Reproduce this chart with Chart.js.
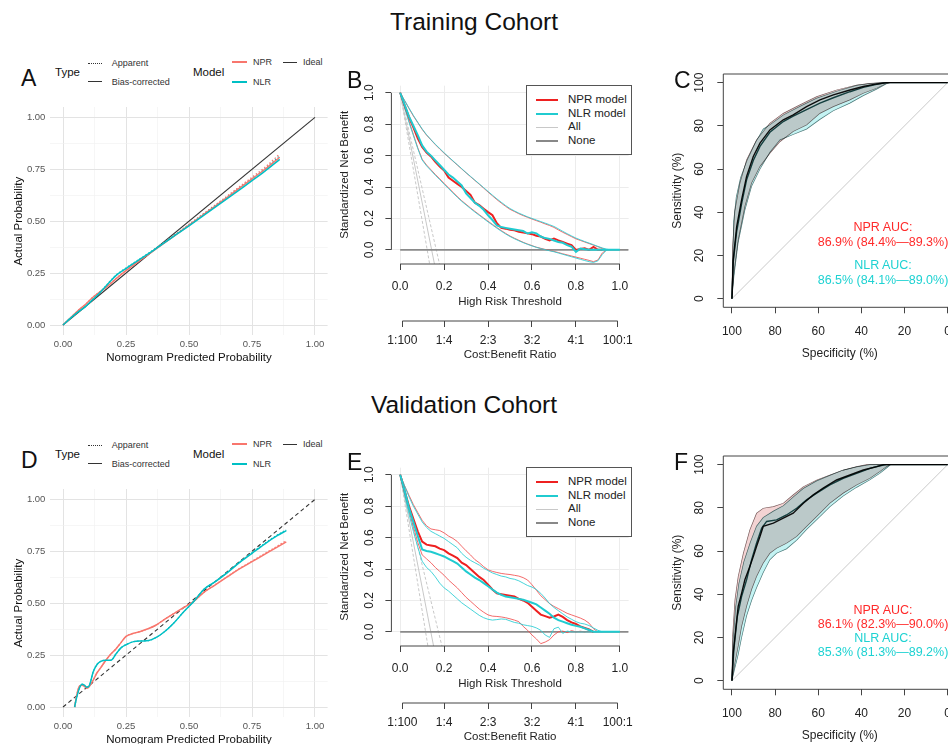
<!DOCTYPE html>
<html>
<head>
<meta charset="utf-8">
<title>Training / Validation Cohort</title>
<script src="https://cdn.jsdelivr.net/npm/chart.js@4.4.1/dist/chart.umd.min.js"></script>
<style>
  html, body { margin: 0; padding: 0; background: #fff; }
  body { position: relative; width: 948px; height: 744px; overflow: hidden;
         font-family: "Liberation Sans", Arial, Helvetica, sans-serif; }
  canvas { position: absolute; }
  .txt { position: absolute; white-space: nowrap; line-height: 1; }
  .seg { position: absolute; height: 0; }
  .box { position: absolute; border: 1px solid #555; background: #fff; box-sizing: border-box; }
</style>
</head>
<body>
<script>
// ---------- calibration curves (A training, D validation) ----------
const calGrid = [0, 0.125, 0.25, 0.375, 0.5, 0.625, 0.75, 0.875, 1];
const idealLine = [0, 1];

const calAx = [0, 0.03, 0.06, 0.09, 0.12, 0.15, 0.18, 0.21, 0.25, 0.3, 0.35, 0.4, 0.45, 0.5, 0.55, 0.6, 0.65, 0.7, 0.75, 0.8, 0.86];
const nprA = [0, 0.035, 0.07, 0.1, 0.135, 0.163, 0.19, 0.222, 0.262, 0.307, 0.35, 0.393, 0.437, 0.481, 0.525, 0.569, 0.614, 0.659, 0.704, 0.749, 0.808];
const nprAApp = [0, 0.035, 0.07, 0.1, 0.136, 0.164, 0.192, 0.224, 0.264, 0.309, 0.352, 0.395, 0.44, 0.485, 0.53, 0.575, 0.62, 0.666, 0.712, 0.758, 0.824];
const nlrA = [0, 0.033, 0.063, 0.09, 0.125, 0.16, 0.2, 0.238, 0.272, 0.312, 0.352, 0.394, 0.436, 0.478, 0.521, 0.564, 0.607, 0.651, 0.695, 0.74, 0.798];
const nlrAApp = [0, 0.033, 0.063, 0.09, 0.126, 0.162, 0.202, 0.24, 0.275, 0.315, 0.355, 0.397, 0.44, 0.483, 0.527, 0.571, 0.615, 0.66, 0.705, 0.75, 0.815];

const calDx = [0.046, 0.055, 0.065, 0.075, 0.085, 0.095, 0.105, 0.12, 0.135, 0.15, 0.17, 0.19, 0.21, 0.23, 0.25, 0.28, 0.31, 0.34, 0.37, 0.4, 0.44, 0.48, 0.52, 0.56, 0.6, 0.65, 0.7, 0.75, 0.8, 0.85, 0.886];
const nprD = [0, 0.06, 0.1, 0.105, 0.1, 0.09, 0.1, 0.13, 0.165, 0.19, 0.225, 0.255, 0.28, 0.31, 0.34, 0.355, 0.365, 0.378, 0.395, 0.42, 0.45, 0.48, 0.51, 0.553, 0.585, 0.625, 0.665, 0.70, 0.735, 0.77, 0.795];
const nprDApp = [0, 0.06, 0.1, 0.105, 0.1, 0.09, 0.1, 0.13, 0.165, 0.19, 0.225, 0.255, 0.28, 0.31, 0.34, 0.355, 0.365, 0.378, 0.395, 0.42, 0.45, 0.48, 0.51, 0.553, 0.586, 0.627, 0.667, 0.703, 0.739, 0.775, 0.802];
const nlrD = [0, 0.05, 0.09, 0.11, 0.105, 0.095, 0.105, 0.17, 0.205, 0.22, 0.225, 0.225, 0.255, 0.285, 0.30, 0.315, 0.318, 0.32, 0.335, 0.36, 0.405, 0.46, 0.51, 0.568, 0.60, 0.645, 0.695, 0.74, 0.785, 0.825, 0.85];
const nlrDApp = [0, 0.05, 0.09, 0.11, 0.105, 0.095, 0.105, 0.17, 0.205, 0.22, 0.225, 0.225, 0.255, 0.285, 0.30, 0.315, 0.318, 0.32, 0.335, 0.36, 0.405, 0.46, 0.51, 0.568, 0.601, 0.647, 0.697, 0.743, 0.788, 0.828, 0.853];

// ---------- decision curves (B training, E validation) ----------
const thr = [0, 0.02, 0.04, 0.06, 0.08, 0.1, 0.12, 0.14, 0.16, 0.18, 0.2, 0.22, 0.24, 0.26, 0.28, 0.3, 0.32, 0.34, 0.36, 0.38,
  0.4, 0.42, 0.44, 0.46, 0.48, 0.5, 0.52, 0.54, 0.56, 0.58, 0.6, 0.62, 0.64, 0.66, 0.68, 0.7, 0.72, 0.74, 0.76, 0.78,
  0.8, 0.82, 0.84, 0.86, 0.88, 0.9, 0.92, 0.94, 0.96, 0.98, 1];
const dcaTicks = [0, 0.2, 0.4, 0.6, 0.8, 1];
const costTicks = [0.01, 0.2, 0.4, 0.6, 0.8, 0.99];
const costLabels = ['1:100', '1:4', '2:3', '3:2', '4:1', '100:1'];
const allY = [1, -0.09];
const noneX = [0, 1.04];
const noneY = [0, 0];

const nprB = [1, .92, .845, .78, .71, .655, .62, .595, .56, .53, .505, .46, .44, .42, .40, .375, .35, .30, .285, .262,
  .24, .22, .17, .14, .135, .128, .124, .115, .11, .105, .10, .09, .085, .07, .06, .072, .06, .05, .04, .03,
  0, .005, .01, 0, .019, 0, 0, null, null, null, null];
const nprBHi = [1, .95, .9, .852, .81, .767, .73, .70, .67, .642, .615, .59, .565, .54, .515, .49, .466, .442, .418, .393,
  .368, .344, .32, .298, .277, .258, .244, .23, .218, .207, .196, .186, .176, .165, .155, .143, .127, .112, .098, .084,
  .07, .06, .05, .04, .03, .02, .01, 0, null, null, null];
const nprBLo = [1, .91, .82, .735, .65, .577, .54, .51, .48, .452, .423, .395, .367, .339, .313, .29, .267, .245, .224, .203,
  .182, .162, .142, .123, .105, .088, .074, .061, .048, .037, .027, .017, .01, .003, -.004, -.01, -.017, -.025, -.032, -.039,
  -.046, -.053, -.06, -.067, -.075, -.065, -.02, 0, null, null, null];
const nlrB = [1, .925, .85, .79, .73, .665, .625, .6, .57, .54, .51, .48, .46, .435, .41, .36, .33, .30, .28, .255,
  .22, .19, .155, .145, .14, .135, .13, .125, .12, .104, .112, .105, .085, .075, .07, .06, .05, .045, .03, .02,
  -.013, .008, .004, 0, 0, 0, 0, 0, 0, 0, 0];
const nlrBHi = [1, .952, .903, .856, .812, .77, .733, .702, .672, .645, .618, .592, .567, .542, .517, .492, .468, .444, .42, .396,
  .372, .348, .325, .303, .282, .263, .248, .234, .222, .21, .2, .19, .18, .17, .16, .149, .134, .118, .103, .089,
  .075, .064, .053, .043, .033, .022, .012, .004, 0, null, null];
const nlrBLo = [1, .905, .812, .728, .645, .572, .535, .505, .475, .447, .418, .39, .362, .335, .309, .286, .263, .241, .22, .199,
  .178, .158, .138, .119, .101, .085, .071, .058, .046, .035, .025, .016, .008, .001, -.006, -.012, -.02, -.028, -.036, -.044,
  -.052, -.06, -.068, -.075, -.08, -.07, -.03, 0, null, null, null];
const allBEnd = [0.134, 0.156, 0.179];

const nprE = [1, .9, .8, .72, .64, .575, .555, .55, .545, .53, .52, .50, .485, .47, .44, .425, .40, .375, .35, .33,
  .30, .27, .245, .24, .235, .23, .225, .21, .20, .185, .16, .135, .11, .10, .09, .098, .11, .095, .075, .06,
  .05, .035, .025, .015, 0, null, null, null, null, null, null];
const nprEHi = [1, .93, .87, .81, .76, .71, .675, .655, .65, .645, .63, .61, .595, .575, .545, .516, .49, .46, .44, .415,
  .395, .385, .378, .372, .368, .365, .36, .355, .345, .33, .30, .265, .23, .205, .18, .162, .148, .133, .118, .108,
  .098, .088, .075, .055, .02, 0, null, null, null, null, null];
const nprELo = [1, .88, .77, .67, .57, .49, .465, .44, .41, .385, .36, .33, .305, .28, .25, .22, .195, .17, .145, .125,
  .108, .10, .098, .095, .09, .083, .075, .065, .035, .01, -.02, -.045, -.075, -.065, -.05, -.02, 0, .005, -.005, .008,
  0, .004, 0, .006, 0, null, null, null, null, null, null];
const nlrE = [1, .9, .79, .7, .61, .525, .515, .51, .50, .49, .48, .465, .45, .435, .41, .385, .365, .345, .33, .31,
  .29, .27, .25, .235, .225, .22, .215, .21, .205, .195, .185, .175, .155, .135, .115, .09, .075, .065, .055, .045,
  .038, .032, .022, .012, 0, 0, 0, 0, 0, 0, 0];
const nlrEHi = [1, .93, .86, .8, .75, .70, .665, .64, .625, .61, .595, .575, .555, .535, .50, .475, .455, .44, .425, .405,
  .39, .375, .365, .355, .35, .34, .335, .325, .31, .295, .285, .27, .245, .215, .18, .155, .135, .115, .095, .08,
  .065, .055, .05, .04, .025, .01, 0, null, null, null, null];
const nlrELo = [1, .87, .75, .64, .54, .45, .41, .385, .35, .31, .28, .26, .235, .21, .185, .165, .145, .125, .105, .09,
  .08, .075, .078, .082, .08, .07, .06, .055, .045, .04, .035, .025, .01, -.02, -.035, .02, .03, -.01, .005, 0,
  0, 0, 0, 0, 0, null, null, null, null, null, null];
const allEEnd = [0.126, 0.152, 0.19];

// ---------- ROC curves (C training, F validation) ----------
const rocTicks = [0, 20, 40, 60, 80, 100];
const diagX = [100, 0];
const diagY = [0, 100];

const nprCSpec = [100, 99.4, 97.8, 95.5, 93.2, 90.1, 87, 82.4, 76.2, 71.6, 65.4, 59.2, 53, 45.3, 39.1, 32.9, 28.3, 0];
const nprCSens = [0, 18, 33.4, 45.8, 56.6, 65.8, 72, 78.1, 82.8, 85.1, 88.9, 92, 94.3, 96.6, 98.2, 99.4, 100, 100];
const nlrCSpec = [100, 99.4, 97.8, 95.5, 93.2, 90.1, 87, 82.4, 76.2, 71.6, 65.4, 59.2, 53, 45.3, 39.1, 32.9, 28, 0];
const nlrCSens = [0, 17, 31, 44, 55, 64, 70.5, 77, 82, 84.5, 87.5, 90.5, 93, 95.8, 97.8, 99.2, 100, 100];
const nprCHiSpec = [100, 99.7, 98.6, 96.3, 93.2, 88.6, 82.4, 76.2, 68.5, 60.7, 51.5, 42.2, 36, 29.8, 0];
const nprCHiSens = [0, 24, 41, 53.5, 64.3, 73.5, 81.2, 85.8, 89.7, 93.5, 96.6, 98.9, 99.7, 100, 100];
const nprCLoSpec = [100, 99.1, 97.1, 94, 90.9, 87, 82.4, 77.7, 71.6, 65.4, 59.2, 53, 45.3, 39.1, 32.9, 28.3, 26.5, 0];
const nprCLoSens = [0, 11.9, 27.3, 42.7, 53.5, 61.2, 67.3, 72.7, 77.4, 80.4, 85.8, 88.9, 92, 95.1, 97.4, 99.7, 100, 100];
const nlrCHiSpec = [100, 99.2, 98, 96, 93, 89, 85.5, 82.4, 76.2, 68.5, 60.7, 51.5, 42.2, 36, 30, 0];
const nlrCHiSens = [0, 36, 47, 56, 64, 72.5, 78.5, 80.5, 85, 89, 92.8, 96, 98.7, 99.6, 100, 100];
const nlrCLoSpec = [100, 99.1, 97.1, 94, 90.9, 87, 82.4, 77.7, 71.6, 65.4, 59.2, 53, 45.3, 39.1, 32.9, 28.3, 27, 0];
const nlrCLoSens = [0, 10, 26, 41, 52, 60, 67.8, 73.5, 76, 78.5, 83, 87, 90.5, 94, 97, 99.5, 100, 100];

const nprFSpec = [100, 99.4, 98.1, 97.1, 95.5, 94, 91.7, 90.1, 88.6, 87, 85.5, 80.8, 76.2, 71.6, 66.9, 62.3, 57.7, 51.5, 45.3, 39.1, 32.9, 29.8, 0];
const nprFSens = [0, 12.8, 25.1, 34.4, 40.5, 46.7, 52.9, 57.5, 62.1, 66.7, 71.4, 72.9, 75.2, 77.5, 82.1, 86, 89.1, 92.9, 95.2, 97.5, 99.1, 100, 100];
const nlrFSpec = [100, 99.1, 97.5, 95.5, 93.2, 90.9, 88.6, 86.2, 83.9, 79.3, 74.7, 70, 65.4, 60.7, 54.6, 48.4, 42.2, 36, 31.4, 28.3, 0];
const nlrFSens = [0, 14.3, 29.7, 39, 46.7, 55.9, 63.6, 70.6, 73.7, 74.4, 76.7, 79.8, 83.7, 86.8, 90.6, 93.7, 96, 98.3, 99.5, 100, 100];
const nprFHiSpec = [100, 99.7, 98.6, 97.1, 94.7, 91.7, 88.6, 85.5, 80.8, 76.2, 71.6, 66.9, 60.7, 54.6, 48.4, 42.2, 37.6, 0];
const nprFHiSens = [0, 20.5, 37.4, 48.2, 59, 69.8, 77.5, 79.8, 80.6, 82.1, 86, 89.8, 92.9, 95.2, 97.5, 99.1, 100, 100];
const nprFLoSpec = [100, 98.6, 97.1, 95.5, 93.2, 90.9, 88.6, 85.5, 82.4, 79.3, 74.7, 70, 65.4, 60.7, 54.6, 48.4, 42.2, 36, 31.4, 28.3, 26.8, 0];
const nprFLoSens = [0, 8.2, 15.9, 25.1, 34.4, 42.1, 48.2, 54.4, 59, 61.3, 63.6, 66.7, 71.4, 76, 82.1, 86.8, 90.6, 93.7, 96.8, 99.1, 100, 100];
const nlrFHiSpec = [100, 99.5, 98.3, 96.8, 94.5, 91.5, 88.6, 85.5, 80.8, 76.2, 71.6, 66.9, 60.7, 54.6, 48.4, 42.2, 36, 0];
const nlrFHiSens = [0, 18, 34, 45, 55, 64, 71.5, 75.5, 78.5, 81, 85, 89, 92.5, 95, 97.5, 99, 100, 100];
const nlrFLoSpec = [100, 98.6, 97.1, 95.5, 93.2, 90.9, 88.6, 85.5, 82.4, 79.3, 74.7, 70, 65.4, 60.7, 54.6, 48.4, 42.2, 36, 31.4, 28.3, 26.5, 0];
const nlrFLoSens = [0, 6, 12, 20, 30, 37, 43, 50, 56, 59, 61, 65, 70, 74.5, 80.5, 85.5, 89.5, 93, 96, 98.5, 100, 100];

// ---------- helpers ----------
const FONT = '"Liberation Sans", Arial, Helvetica, sans-serif';
Chart.defaults.font.family = FONT;
Chart.defaults.color = '#222';

const RED = '#F8766D', CYAN = '#00BFC4';          // ggplot hues (A, D)
const DRED = '#ee2020', DCYAN = '#20cbd0';         // decision curve colours

function pts(xs, ys) { return xs.map((x, i) => ({ x: x, y: ys[i] })); }
// closed polygon: upper bound forward, lower bound back
function band(hx, hy, lx, ly) { return pts(hx, hy).concat(pts(lx, ly).reverse()); }
const fixSize = (prop, v) => s => { s[prop] = v; };
const setTicks = list => s => { s.ticks = list.map(v => ({ value: v })); };

function makeCanvas(left, top, w, h) {
  const c = document.createElement('canvas');
  c.width = w; c.height = h;
  c.style.left = left + 'px'; c.style.top = top + 'px';
  c.style.width = w + 'px'; c.style.height = h + 'px';
  document.body.appendChild(c);
  return c;
}

function text(str, x, y, size, color, align) {
  const d = document.createElement('div');
  d.className = 'txt';
  d.textContent = str;
  d.style.left = x + 'px';
  d.style.top = y + 'px';
  d.style.fontSize = size + 'px';
  d.style.color = color || '#222';
  d.style.transform = 'translate(' + (align === 'center' ? '-50%' : '0') + ',-50%)';
  document.body.appendChild(d);
}

function seg(x1, x2, y, color, w, style) {
  const s = document.createElement('div');
  s.className = 'seg';
  s.style.left = x1 + 'px';
  s.style.width = (x2 - x1) + 'px';
  s.style.top = Math.round(y - w / 2) + 'px';
  s.style.borderTop = w + 'px ' + (style || 'solid') + ' ' + color;
  document.body.appendChild(s);
}

function line(data, color, width, extra) {
  return Object.assign({ data: data, borderColor: color, borderWidth: width, pointRadius: 0, fill: false }, extra || {});
}

function baseOptions() {
  return {
    responsive: false, animation: false, events: [],
    plugins: { legend: { display: false }, tooltip: { enabled: false } }
  };
}

// base-R style axes: segment from first to last tick, rotated y labels, optional box
const rAxes = {
  id: 'rAxes',
  afterDraw(chart, args, o) {
    const ctx = chart.ctx, a = chart.chartArea, sx = chart.scales.x, sy = chart.scales.y;
    ctx.save();
    ctx.strokeStyle = '#444';
    ctx.lineWidth = 1;
    ctx.beginPath();
    if (o.box) {
      ctx.rect(a.left, a.top, a.right - a.left, a.bottom - a.top);
    } else {
      ctx.moveTo(sx.getPixelForValue(0), a.bottom); ctx.lineTo(sx.getPixelForValue(1), a.bottom);
      ctx.moveTo(a.left, sy.getPixelForValue(0)); ctx.lineTo(a.left, sy.getPixelForValue(1));
      if (chart.scales.x2) {
        const s2 = chart.scales.x2;
        ctx.moveTo(s2.getPixelForValue(costTicks[0]), s2.top);
        ctx.lineTo(s2.getPixelForValue(costTicks[costTicks.length - 1]), s2.top);
      }
    }
    ctx.stroke();
    ctx.fillStyle = '#222';
    ctx.font = '12px ' + FONT;
    ctx.textAlign = 'center';
    ctx.textBaseline = 'middle';
    sy.ticks.forEach(t => {
      ctx.save();
      ctx.translate(a.left - o.gap, sy.getPixelForValue(t.value));
      ctx.rotate(-Math.PI / 2);
      ctx.fillText(t.value.toFixed(o.dec), 0, 0);
      ctx.restore();
    });
    ctx.restore();
  }
};

// overlapping CI bands darken each other
const multiply = {
  id: 'multiply',
  beforeDatasetsDraw(chart) { chart.ctx.save(); chart.ctx.globalCompositeOperation = 'multiply'; },
  afterDatasetsDraw(chart) { chart.ctx.restore(); }
};

// ---------- panel builders ----------
function calibrationChart(top, xs, npr, nprApp, nlr, nlrApp, idealDash) {
  const c = makeCanvas(0, top, 340, 285);
  const major = v => Math.abs(v * 4 - Math.round(v * 4)) < 1e-6;
  const axis = (title, tickPad, titlePad, size, prop) => ({
    type: 'linear', min: -0.05, max: 1.05,
    afterBuildTicks: setTicks(calGrid),
    afterFit: fixSize(prop, size),
    ticks: { autoSkip: false, maxRotation: 0, padding: tickPad, color: '#555', font: { size: 9.5 },
             callback: v => major(v) ? v.toFixed(2) : '' },
    grid: { drawTicks: false,
            color: g => (g.tick && major(g.tick.value)) ? '#e3e3e3' : '#f0f0f0',
            lineWidth: g => (g.tick && major(g.tick.value)) ? 1 : 0.6 },
    border: { display: false },
    title: { display: true, text: title, color: '#111', font: { size: 11.5 }, padding: titlePad }
  });
  const opts = baseOptions();
  opts.layout = { padding: { left: 0, right: 12.4, top: 12, bottom: 0 } };
  opts.scales = {
    x: axis('Nomogram Predicted Probability', 3, { top: 0, bottom: 15 }, 44.6, 'height'),
    y: axis('Actual Probability', 5, { top: 12, bottom: 0 }, 50.4, 'width')
  };
  const smooth = { cubicInterpolationMode: 'monotone' };
  new Chart(c, {
    type: 'line',
    data: { datasets: [
      line(pts(idealLine, idealLine), '#333', 1.1, { borderDash: idealDash ? [4, 3] : [], order: 5 }),
      line(pts(xs, nprApp), RED, 1.2, Object.assign({ borderDash: [1.5, 2], order: 4 }, smooth)),
      line(pts(xs, nlrApp), CYAN, 1.2, Object.assign({ borderDash: [1.5, 2], order: 3 }, smooth)),
      line(pts(xs, npr), RED, 1.5, Object.assign({ order: 2 }, smooth)),
      line(pts(xs, nlr), CYAN, 1.5, Object.assign({ order: 1 }, smooth))
    ] },
    options: opts
  });
}

function dcaChart(top, nprC, nprHi, nprLo, nlrC, nlrHi, nlrLo, allEnd) {
  const c = makeCanvas(330, top, 310, 300);
  const opts = baseOptions();
  opts.layout = { padding: { left: 0, right: 8.3, top: 10.7, bottom: 0 } };
  opts.scales = {
    x: { type: 'linear', min: -0.04, max: 1.04, weight: 0,
         afterBuildTicks: setTicks(dcaTicks), afterFit: fixSize('height', 57),
         ticks: { autoSkip: false, maxRotation: 0, padding: 9.5, font: { size: 12 }, callback: v => v.toFixed(1) },
         grid: { color: '#ececec', tickColor: '#444', tickWidth: 1, tickLength: 6 },
         border: { display: false },
         title: { display: true, text: 'High Risk Threshold', color: '#222', font: { size: 11.5 }, padding: { top: 0, bottom: 12.4 } } },
    x2: { type: 'linear', position: 'bottom', min: -0.04, max: 1.04, weight: 1,
          afterBuildTicks: setTicks(costTicks), afterFit: fixSize('height', 54),
          ticks: { autoSkip: false, maxRotation: 0, padding: 6.8, font: { size: 12 },
                   callback: v => costLabels[costTicks.indexOf(v)] },
          grid: { drawOnChartArea: false, tickColor: '#444', tickWidth: 1, tickLength: 6 },
          border: { display: false },
          title: { display: true, text: 'Cost:Benefit Ratio', color: '#222', font: { size: 11.5 }, padding: { top: 0, bottom: 13 } } },
    y: { type: 'linear', min: -0.09, max: 1.045,
         afterBuildTicks: setTicks(dcaTicks), afterFit: fixSize('width', 61.4),
         ticks: { display: false },
         grid: { color: '#ececec', tickColor: '#444', tickWidth: 1, tickLength: 6 },
         border: { display: false },
         title: { display: true, text: 'Standardized Net Benefit', color: '#222', font: { size: 11.5 }, padding: { top: 8.1, bottom: 0 } } }
  };
  opts.plugins.rAxes = { box: false, gap: 21.4, dec: 1 };
  const all = allEnd.map((e, i) => line(pts([0, e], allY), '#c8c8c8', 1, { borderDash: i === 1 ? [] : [3, 2], order: 9 }));
  new Chart(c, {
    type: 'line',
    data: { datasets: all.concat([
      line(pts(noneX, noneY), '#8a8a8a', 1.8, { order: 8 }),
      line(pts(thr, nprHi), 'rgba(240,70,70,0.8)', 1, { order: 6 }),
      line(pts(thr, nprLo), 'rgba(240,70,70,0.8)', 1, { order: 6 }),
      line(pts(thr, nlrHi), 'rgba(40,205,210,0.85)', 1, { order: 5 }),
      line(pts(thr, nlrLo), 'rgba(40,205,210,0.85)', 1, { order: 5 }),
      line(pts(thr, nprC), DRED, 2, { order: 2 }),
      line(pts(thr, nlrC), DCYAN, 2, { order: 1 })
    ]) },
    options: opts,
    plugins: [rAxes]
  });
}

function rocChart(top, npr, nlr, nprBand, nlrBand) {
  const c = makeCanvas(650, top, 320, 310);
  const opts = baseOptions();
  opts.layout = { padding: { left: 0, right: 13.7, top: 14, bottom: 0 } };
  opts.scales = {
    x: { type: 'linear', reverse: true, min: -4, max: 104,
         afterBuildTicks: setTicks(rocTicks), afterFit: fixSize('height', 62.7),
         ticks: { autoSkip: false, maxRotation: 0, padding: 11, font: { size: 12 } },
         grid: { drawOnChartArea: false, tickColor: '#444', tickWidth: 1, tickLength: 6 },
         border: { display: false },
         title: { display: true, text: 'Specificity (%)', color: '#222', font: { size: 12 }, padding: { top: 0, bottom: 9.5 } } },
    y: { type: 'linear', min: -4, max: 104,
         afterBuildTicks: setTicks(rocTicks), afterFit: fixSize('width', 73.3),
         ticks: { display: false },
         grid: { drawOnChartArea: false, tickColor: '#444', tickWidth: 1, tickLength: 6 },
         border: { display: false },
         title: { display: true, text: 'Sensitivity (%)', color: '#222', font: { size: 12 }, padding: { top: 20.8, bottom: 0 } } }
  };
  opts.plugins.rAxes = { box: true, gap: 24, dec: 0 };
  // the filler paints each band twice; under multiply the colours below are squared on screen
  new Chart(c, {
    type: 'line',
    data: { datasets: [
      line(nprBand, 'rgba(90,60,60,0.8)', 0.7, { fill: 'shape', backgroundColor: 'rgb(243,211,211)', order: 10 }),
      line(nlrBand, 'rgba(40,90,90,0.8)', 0.7, { fill: 'shape', backgroundColor: 'rgb(196,243,243)', order: 9 }),
      line(pts(diagX, diagY), '#c9c9c9', 1, { order: 8 }),
      line(nlr, '#1b4f4f', 1.4, { order: 2 }),
      line(npr, '#111', 1.4, { order: 1 })
    ] },
    options: opts,
    plugins: [multiply, rAxes]
  });
}

// ---------- legends and labels ----------
function calLegend(dy) {
  text('Type', 55, 72.7 + dy, 11.5, '#111');
  seg(88, 102, 63.3 + dy, '#333', 1, 'dotted');
  text('Apparent', 111.7, 63.3 + dy, 9, '#333');
  seg(88, 102, 81.7 + dy, '#333', 1);
  text('Bias-corrected', 111.7, 81.7 + dy, 9, '#333');
  text('Model', 193, 72.7 + dy, 11.5, '#111');
  seg(232, 247, 62 + dy, RED, 2);
  text('NPR', 253, 62 + dy, 9, '#333');
  seg(232, 247, 81.7 + dy, CYAN, 2);
  text('NLR', 253, 81.7 + dy, 9, '#333');
  seg(283, 297, 62 + dy, '#333', 1);
  text('Ideal', 303, 62 + dy, 9, '#333');
}

function dcaLegend(dy) {
  const b = document.createElement('div');
  b.className = 'box';
  b.style.left = '525.7px'; b.style.top = (85 + dy) + 'px';
  b.style.width = '106px'; b.style.height = '69.5px';
  document.body.appendChild(b);
  const rows = [['NPR model', DRED, 2], ['NLR model', DCYAN, 2], ['All', '#c8c8c8', 1], ['None', '#888', 2]];
  rows.forEach((r, i) => {
    const y = 100 + dy + i * 13.7;
    seg(536, 558, y, r[1], r[2]);
    text(r[0], 568, y, 11.5, '#222');
  });
}

function aucText(ys, lines) {
  const cols = ['#ff2b2b', '#ff2b2b', '#1ed2d2', '#1ed2d2'];
  lines.forEach((s, i) => text(s, 883, ys[i], 12.5, cols[i], 'center'));
}

const SHIFT = 382;   // vertical offset between cohorts

text('Training Cohort', 474, 22, 24.5, '#111', 'center');
text('Validation Cohort', 464, 22 + SHIFT + 1, 24.5, '#111', 'center');

calibrationChart(95, calAx, nprA, nprAApp, nlrA, nlrAApp, false);
calibrationChart(95 + SHIFT, calDx, nprD, nprDApp, nlrD, nlrDApp, true);

dcaChart(75, nprB, nprBHi, nprBLo, nlrB, nlrBHi, nlrBLo, allBEnd);
dcaChart(75 + SHIFT, nprE, nprEHi, nprELo, nlrE, nlrEHi, nlrELo, allEEnd);

rocChart(60, pts(nprCSpec, nprCSens), pts(nlrCSpec, nlrCSens),
  band(nprCHiSpec, nprCHiSens, nprCLoSpec, nprCLoSens), band(nlrCHiSpec, nlrCHiSens, nlrCLoSpec, nlrCLoSens));
rocChart(60 + SHIFT, pts(nprFSpec, nprFSens), pts(nlrFSpec, nlrFSens),
  band(nprFHiSpec, nprFHiSens, nprFLoSpec, nprFLoSens), band(nlrFHiSpec, nlrFHiSens, nlrFLoSpec, nlrFLoSens));

calLegend(0);
calLegend(SHIFT);
dcaLegend(0);
dcaLegend(SHIFT);

aucText([226.7, 241.7, 265, 280], ['NPR AUC:', '86.9% (84.4%\u201489.3%)', 'NLR AUC:', '86.5% (84.1%\u201489.0%)']);
aucText([610, 624, 638.3, 652.3], ['NPR AUC:', '86.1% (82.3%\u201490.0%)', 'NLR AUC:', '85.3% (81.3%\u201489.2%)']);

[['A', 21, 78], ['B', 347, 80], ['C', 674, 80]].forEach(l => {
  text(l[0], l[1], l[2], 23, '#111');
  text(String.fromCharCode(l[0].charCodeAt(0) + 3), l[1], l[2] + SHIFT, 23, '#111');
});
</script>
</body>
</html>
